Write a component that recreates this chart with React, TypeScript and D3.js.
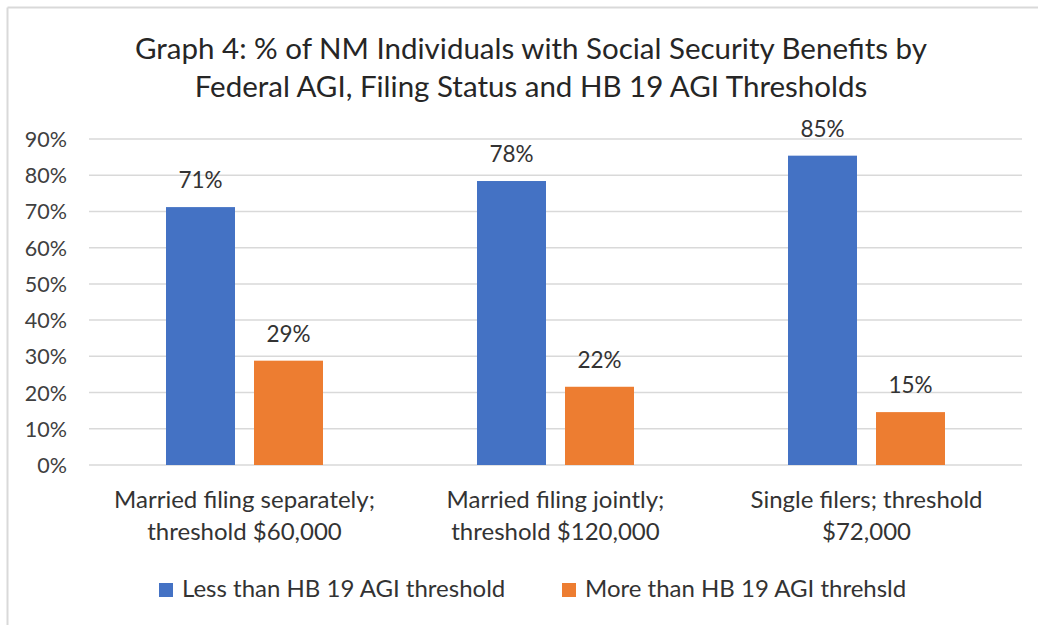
import * as d3 from 'd3';
import React, { useEffect, useRef } from 'react';

const categories = [
  ['Married filing separately;', 'threshold $60,000'],
  ['Married filing jointly;', 'threshold $120,000'],
  ['Single filers; threshold', '$72,000'],
];
const seriesNames = ['Less than HB 19 AGI threshold', 'More than HB 19 AGI threhsld'];
const lessValues = [71.2, 78.4, 85.4];
const moreValues = [28.8, 21.6, 14.6];
const yTicks = [0, 10, 20, 30, 40, 50, 60, 70, 80, 90];
const titleLines = [
  'Graph 4: % of NM Individuals with Social Security Benefits by',
  'Federal AGI, Filing Status and HB 19 AGI Thresholds',
];

const colors = ['#4472c4', '#ed7d31'];
const font = 'Lato, "Open Sans", sans-serif';

const App: React.FC = () => {
  const svgRef = useRef<SVGSVGElement | null>(null);

  useEffect(() => {
    const svg = d3.select(svgRef.current);
    const width = 1038;
    const height = 625;
    const margin = { top: 139, right: 16, bottom: 160, left: 89 };

    svg.selectAll('*').remove();
    svg.attr('width', width).attr('height', height).style('background', '#fff');

    // chart frame (only top and left edges visible)
    svg.append('line').attr('x1', 7.5).attr('x2', width).attr('y1', 7.5).attr('y2', 7.5)
      .attr('stroke', '#d9d9d9').attr('stroke-width', 2);
    svg.append('line').attr('x1', 7.5).attr('x2', 7.5).attr('y1', 7.5).attr('y2', height)
      .attr('stroke', '#d9d9d9').attr('stroke-width', 2);

    const x0 = d3.scaleBand<number>()
      .domain(d3.range(categories.length))
      .range([margin.left, width - margin.right])
      .paddingInner(0)
      .paddingOuter(0);

    const barW = 69;
    const gap = 19;

    const y = d3.scaleLinear().domain([0, 90]).range([height - margin.bottom, margin.top]);

    // title
    svg.append('g').selectAll('text').data(titleLines).join('text')
      .attr('x', 531)
      .attr('y', (_, i) => 59 + i * 38)
      .attr('text-anchor', 'middle')
      .style('font-family', font)
      .style('font-size', '29.5px')
      .attr('fill', '#262626')
      .text((d) => d);

    // gridlines
    svg.append('g').selectAll('line').data(yTicks).join('line')
      .attr('x1', margin.left).attr('x2', width - margin.right)
      .attr('y1', (d) => y(d)).attr('y2', (d) => y(d))
      .attr('stroke', '#d9d9d9').attr('stroke-width', 1.5);

    // y axis labels
    svg.append('g').selectAll('text').data(yTicks).join('text')
      .attr('x', 67)
      .attr('y', (d) => y(d) + 8)
      .attr('text-anchor', 'end')
      .style('font-family', font)
      .style('font-size', '21.5px')
      .attr('fill', '#404040')
      .text((d) => `${d}%`);

    const series = [lessValues, moreValues];
    series.forEach((vals, s) => {
      const g = svg.append('g');
      const bx = (i: number) => x0(i)! + x0.bandwidth() / 2 - (barW * 2 + gap) / 2 + s * (barW + gap);
      g.selectAll('rect').data(vals).join('rect')
        .attr('x', (_, i) => bx(i))
        .attr('y', (d) => y(d))
        .attr('width', barW)
        .attr('height', (d) => y(0) - y(d))
        .attr('fill', colors[s]);
      g.selectAll('text').data(vals).join('text')
        .attr('x', (_, i) => bx(i) + barW / 2)
        .attr('y', (d) => y(d) - 19)
        .attr('text-anchor', 'middle')
        .style('font-family', font)
        .style('font-size', '22.5px')
        .attr('fill', '#333')
        .text((d) => `${Math.round(d)}%`);
    });

    // category labels
    const cat = svg.append('g').selectAll('text').data(categories).join('text')
      .attr('x', (_, i) => x0(i)! + x0.bandwidth() / 2)
      .attr('y', 508)
      .attr('text-anchor', 'middle')
      .style('font-family', font)
      .style('font-size', '24px')
      .attr('fill', '#333');
    cat.selectAll('tspan').data((d) => d).join('tspan')
      .attr('x', function () {
        return (this.parentNode as SVGTextElement).getAttribute('x');
      })
      .attr('dy', (_, i) => (i === 0 ? 0 : 32))
      .text((d) => d);

    // legend
    const legendX = [159, 562];
    const legend = svg.append('g').selectAll('g').data(seriesNames).join('g')
      .attr('transform', (_, i) => `translate(${legendX[i]},583)`);
    legend.append('rect').attr('width', 14).attr('height', 14).attr('fill', (_, i) => colors[i]);
    legend.append('text')
      .attr('x', 23).attr('y', 14)
      .style('font-family', font)
      .style('font-size', '24px')
      .attr('fill', '#333')
      .text((d) => d);
  }, []);

  return (
    <div style={{ position: 'absolute', left: 0, top: 0 }}>
      <svg ref={svgRef}></svg>
    </div>
  );
};

export default App;
